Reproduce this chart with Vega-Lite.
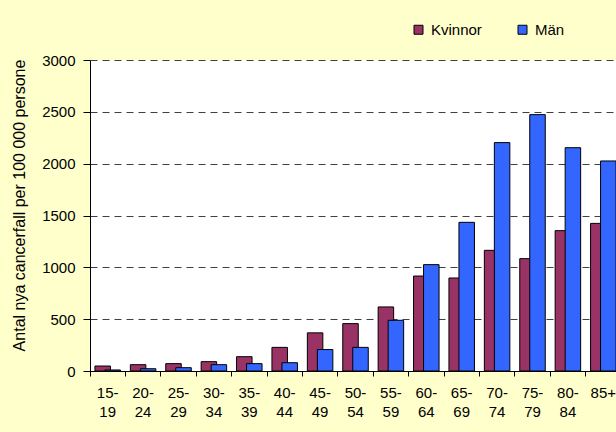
{
  "$schema": "https://vega.github.io/schema/vega-lite/v6.json",
  "width": 526,
  "height": 311,
  "autosize": {"type": "none"},
  "padding": {"left": 90, "top": 60, "right": 0, "bottom": 61},
  "background": "#FFFFCC",
  "config": {
    "view": {"fill": "white", "stroke": null},
    "font": "Liberation Sans",
    "axis": {"labelFont": "Liberation Sans", "titleFont": "Liberation Sans", "labelColor": "#000", "titleColor": "#000", "domainColor": "#000", "tickColor": "#000"},
    "legend": {"labelFont": "Liberation Sans"}
  },
  "data": {
    "values": [
      {"age": "15-19", "kon": "Kvinnor", "value": 48},
      {"age": "20-24", "kon": "Kvinnor", "value": 61},
      {"age": "25-29", "kon": "Kvinnor", "value": 71},
      {"age": "30-34", "kon": "Kvinnor", "value": 90},
      {"age": "35-39", "kon": "Kvinnor", "value": 138},
      {"age": "40-44", "kon": "Kvinnor", "value": 228},
      {"age": "45-49", "kon": "Kvinnor", "value": 368},
      {"age": "50-54", "kon": "Kvinnor", "value": 457},
      {"age": "55-59", "kon": "Kvinnor", "value": 618},
      {"age": "60-64", "kon": "Kvinnor", "value": 916},
      {"age": "65-69", "kon": "Kvinnor", "value": 897},
      {"age": "70-74", "kon": "Kvinnor", "value": 1164},
      {"age": "75-79", "kon": "Kvinnor", "value": 1084},
      {"age": "80-84", "kon": "Kvinnor", "value": 1354},
      {"age": "85+", "kon": "Kvinnor", "value": 1424},
      {"age": "15-19", "kon": "Män", "value": 10},
      {"age": "20-24", "kon": "Män", "value": 22},
      {"age": "25-29", "kon": "Män", "value": 32},
      {"age": "30-34", "kon": "Män", "value": 61},
      {"age": "35-39", "kon": "Män", "value": 71},
      {"age": "40-44", "kon": "Män", "value": 80},
      {"age": "45-49", "kon": "Män", "value": 207},
      {"age": "50-54", "kon": "Män", "value": 228},
      {"age": "55-59", "kon": "Män", "value": 489},
      {"age": "60-64", "kon": "Män", "value": 1026},
      {"age": "65-69", "kon": "Män", "value": 1434},
      {"age": "70-74", "kon": "Män", "value": 2203},
      {"age": "75-79", "kon": "Män", "value": 2473},
      {"age": "80-84", "kon": "Män", "value": 2154},
      {"age": "85+", "kon": "Män", "value": 2026}
    ]
  },
  "encoding": {
    "x": {
      "field": "age", "type": "nominal", "sort": null,
      "scale": {"range": [0, 531], "paddingInner": 0, "paddingOuter": 0},
      "axis": {
        "title": null, "labelAngle": 0, "bandPosition": 0, "tickSize": 5, "labelPadding": 9,
        "labelFontSize": 15, "labelLineHeight": 19, "labelBaseline": "top",
        "labelExpr": "indexof(datum.label, '-') > 0 ? [substring(datum.label, 0, 3), substring(datum.label, 3)] : datum.label",
        "grid": false, "domainWidth": 1, "labelOverlap": false
      }
    },
    "y": {
      "field": "value", "type": "quantitative",
      "scale": {"domain": [0, 3000], "nice": false},
      "axis": {
        "title": "Antal nya cancerfall per 100 000 persone", "titleFontSize": 16, "titleFontWeight": "normal", "titlePadding": 14, "titleY": 145,
        "values": [0, 500, 1000, 1500, 2000, 2500, 3000], "format": "d", "labelFontSize": 15, "tickSize": 7, "labelPadding": 8,
        "grid": true, "gridColor": "#000", "gridDash": [7, 5], "gridOpacity": 0.75
      }
    },
    "color": {
      "field": "kon", "type": "nominal",
      "scale": {"domain": ["Kvinnor", "Män"], "range": ["#993366", "#3366FF"]},
      "legend": {
        "title": null, "orient": "none", "direction": "horizontal", "legendX": 321, "legendY": -38,
        "symbolType": "square", "symbolSize": 81, "symbolStrokeColor": "#000", "symbolStrokeWidth": 1, "symbolOpacity": 1,
        "labelFontSize": 15, "columnPadding": 33, "labelOffset": 5, "padding": 0
      }
    }
  },
  "layer": [
    {
      "transform": [{"filter": "datum.kon == 'Kvinnor'"}],
      "mark": {"type": "bar", "width": 15.5, "xOffset": -5, "stroke": "#000", "strokeWidth": 1, "opacity": 1}
    },
    {
      "transform": [{"filter": "datum.kon == 'Män'"}],
      "mark": {"type": "bar", "width": 15.5, "xOffset": 5, "stroke": "#000", "strokeWidth": 1, "opacity": 1}
    }
  ]
}
